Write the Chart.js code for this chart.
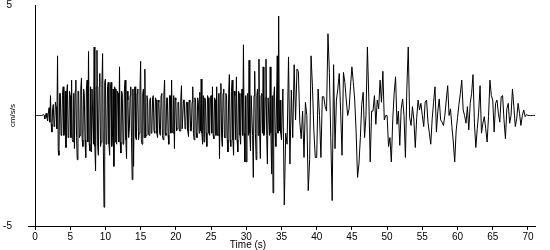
<!DOCTYPE html>
<html>
<head>
<meta charset="utf-8">
<title>Acceleration record</title>
<script src="https://cdn.jsdelivr.net/npm/chart.js@4/dist/chart.umd.min.js"></script>
<style>
  body { margin: 0; background: #fff; }
  #wrap { width: 550px; height: 250px; }
</style>
</head>
<body>
<div id="wrap"><canvas id="thechart" width="550" height="250"></canvas></div>
<script>
// what we have to start with
var xTicks = [0, 5, 10, 15, 20, 25, 30, 35, 40, 45, 50, 55, 60, 65, 70];
var yTicks = [-5, 5];
var xTitle = 'Time (s)';
var yTitle = 'cm/s/s';

// strong shaking part, 0.0 .. 34.9 s, read every 0.1 s (one row per second)
var denseStep = 0.1;
var denseAccel = [
  0, 0, 0, 0, 0, 0, 0, 0, 0, 0,
  0, 0, 0.05, 0, -0.15, 0.05, 0.1, -0.1, -0.25, 0.1,
  0.35, -0.3, 0.9, -0.4, -0.75, 0.3, 0.5, -0.5, -0.35, 0.6,
  0.4, -0.6, 2.7, -1.6, -1.8, 1.0, 1.0, -0.9, -0.8, 0.9,
  1.3, -0.9, -0.6, 1.1, -1.45, 1.0, 1.4, -1.0, -0.9, 1.1,
  0.9, -1.0, 1.6, -1.1, -1.2, 1.0, -1.5, 1.1, 1.6, -1.0,
  -2.0, 1.1, 1.1, -1.0, -0.9, 1.2, 1.7, -1.1, -1.4, 1.2,
  1.0, -1.1, -1.9, 1.2, 1.6, -1.2, 2.9, -1.3, -1.6, 1.3,
  -1.65, 1.2, 1.2, -1.3, 3.1, -1.4, -2.5, 1.3, 2.95, -1.4,
  -1.8, 1.3, 1.9, -1.4, -1.2, 1.4, 2.8, -1.3, -4.15, 1.5,
  1.65, -1.3, -1.2, 1.3, 1.5, -1.3, -1.8, 1.2, 1.5, -1.4,
  -1.0, 1.2, -2.3, 1.3, 1.2, -1.2, -1.3, 1.1, 1.0, -1.2,
  2.2, -1.2, -1.7, 1.1, 1.0, -1.3, -1.2, 1.2, 1.6, -1.1,
  -1.95, 1.1, 0.7, -1.0, -0.6, 0.9, 1.3, -1.0, -2.9, 1.2,
  -2.3, 1.1, 1.3, -1.0, -1.1, 1.0, 1.2, -1.1, -0.8, 1.1,
  2.45, -1.1, -1.3, 1.0, 1.2, -1.0, 2.1, -1.0, -0.9, 0.9,
  0.6, -0.8, -0.9, 0.7, 0.8, -0.8, -0.7, 0.8, 0.9, -0.7,
  -0.8, 0.8, 0.7, -0.8, -1.0, 0.7, 0.6, -0.8, -0.9, 0.9,
  1.0, -0.9, -1.1, 0.9, 1.6, -0.8, -0.9, 0.8, 0.8, -0.9,
  -1.3, 0.9, 0.9, -0.8, 1.6, -0.7, -0.8, 0.9, -1.5, 0.8,
  0.7, -0.7, -0.6, 0.6, 0.6, -0.7, -0.7, 0.7, 1.35, -0.6,
  -0.6, 0.7, 0.7, -0.6, -0.5, 0.6, 0.6, -0.7, -0.95, 0.7,
  0.6, -0.7, -0.7, 0.6, 1.3, -0.8, -1.1, 0.8, 0.7, -0.8,
  -1.0, 0.8, 0.6, -0.8, 1.05, -0.7, 1.65, -0.8, -1.3, 0.9,
  -1.2, 0.8, 0.7, -0.8, -1.4, 0.9, 0.8, -0.8, -0.9, 0.8,
  0.9, -0.8, 1.3, -0.9, -1.05, 0.8, 0.7, -0.9, 1.3, -0.9,
  -0.9, 1.0, -1.95, 1.0, 1.45, -1.0, -1.4, 1.0, 1.2, -1.0,
  -1.0, 1.0, 0.9, -1.1, -1.65, 1.0, 1.85, -1.1, -1.4, 1.1,
  1.6, -1.1, -1.8, 1.1, 0.9, -1.1, 1.75, -1.1, -1.65, 1.1,
  1.0, -0.9, -1.3, 0.8, 1.2, -0.9, 3.2, -0.8, -2.1, 0.9,
  -2.1, 0.8, 1.0, -0.9, 2.5, -0.8, -1.6, 0.9, 0.9, -0.9,
  -2.8, 0.9, 2.0, -0.8, -2.0, 0.9, 1.2, -0.9, 2.55, -0.8,
  -1.95, 0.9, 1.0, -0.8, 2.2, -0.9, -0.7, 0.8, 2.55, -0.9,
  -2.2, 0.8, 0.8, -0.9, 2.2, -0.8, -2.65, 0.9, -3.5, 0.8,
  1.3, -0.8, -1.4, 0.7, 2.7, -0.8, 4.5, -0.7, 0.7, -0.8
];

// calmer tail, 35.0 .. 71.0 s, read every 0.2 s (t = s.0 s.2 s.4 s.6 s.8)
var tailStart = 35;
var tailStep = 0.2;
var tailAccel = [
  -1.1, 1.2, -4.05, -0.8, -1.3,
  2.65, -2.2, 1.15, -1.0, 2.3,
  -0.2, 2.1, 2.0, -0.3, -1.05,
  0.2, -1.9, 0.6, 0.0, -3.4,
  -2.0, 2.7, 1.3, -0.7, -1.9,
  -1.9, 1.2, 0.0, -1.9, 0.85,
  0.85, 0.4, 0.2, 3.7, 1.95,
  -1.0, -3.85, 2.3, -1.5, 0.7,
  1.2, 1.9, 0.2, -1.8, 1.95,
  1.5, 0.7, 0.0, 0.3, 1.3,
  2.2, 1.5, 0.7, -0.75, -2.8,
  -2.2, -1.0, 0.5, 1.05, -1.0,
  0.0, 3.1, 0.8, -2.1, 0.2,
  0.2, 0.9, -0.4, 0.7, 0.3,
  1.6, 0.6, 2.0, -0.2, 0.0,
  0.0, -1.4, -1.0, -2.1, -0.2,
  1.0, 1.75, -0.4, 0.2, -1.35,
  0.3, 0.75, 0.0, -1.9, 1.2,
  3.1, -0.1, -0.45, 0.4, -0.2,
  -1.45, -0.1, 0.7, 0.25, 0.55,
  0.0, -0.5, 0.6, 0.7, -0.3,
  -0.8, -1.3, -0.15, 0.6, 1.3,
  -0.75, 0.2, 0.75, -0.2, -0.3,
  -0.45, 0.0, 0.7, 1.35, 0.0,
  0.3, -0.5, -1.2, -2.1, -0.7,
  -0.1, 0.5, 1.0, 1.6, 0.25,
  0.0, -0.35, 0.4, -0.65, 0.55,
  1.0, 1.85, -0.35, -1.45, -0.6,
  0.15, 1.35, -0.8, -0.35, -0.05,
  -0.6, -1.2, -0.05, 1.6, 0.9,
  0.7, -0.75, 0.55, 0.7, 0.1,
  -0.3, 0.85, 0.9, -0.2, -1.05,
  0.3, 0.55, -0.35, 0.0, 1.2,
  0.4, -0.5, -0.15, 0.55, 0.1,
  -0.45, 0.0, 0.25, -0.05, 0.05,
  0, 0, 0, 0, 0,
  0
];

// pair each sample with its time for the linear x scale
var points = [];
for (var i = 0; i < denseAccel.length; i++) {
  points.push({ x: Math.round(i * denseStep * 10) / 10, y: denseAccel[i] });
}
for (var j = 0; j < tailAccel.length; j++) {
  points.push({ x: Math.round((tailStart + j * tailStep) * 10) / 10, y: tailAccel[j] });
}

var fontFamily = 'Arial, "Liberation Sans", sans-serif';
var tickFont = { family: fontFamily, size: 10 };

// x title sits left of centre in the original, so draw it by hand
var xTitlePlugin = {
  id: 'xTitlePlugin',
  afterDraw: function (chart) {
    var ctx = chart.ctx;
    ctx.save();
    ctx.fillStyle = '#000';
    ctx.font = '10px ' + fontFamily;
    ctx.textAlign = 'center';
    ctx.textBaseline = 'alphabetic';
    ctx.fillText(xTitle, 248, 248);
    ctx.restore();
  }
};

function drawChart() {
  var ctx = document.getElementById('thechart').getContext('2d');
  new Chart(ctx, {
    type: 'line',
    data: {
      datasets: [{
        data: points,
        borderColor: '#000',
        borderWidth: 1,
        pointRadius: 0,
        tension: 0,
        fill: false
      }]
    },
    options: {
      responsive: false,
      animation: false,
      events: [],
      layout: { autoPadding: false, padding: { top: 5, right: 15, left: 0, bottom: 0 } },
      plugins: { legend: { display: false }, tooltip: { enabled: false } },
      scales: {
        x: {
          type: 'linear',
          min: 0,
          max: 71,
          afterBuildTicks: function (scale) {
            scale.ticks = xTicks.map(function (v) { return { value: v }; });
          },
          afterFit: function (scale) { scale.height = 24; },
          border: { display: true, color: '#000', width: 1 },
          grid: { drawOnChartArea: false, drawTicks: true, tickLength: 4, color: '#000' },
          ticks: { color: '#000', font: tickFont, padding: 1, maxRotation: 0, autoSkip: false }
        },
        y: {
          min: -5,
          max: 5,
          afterBuildTicks: function (scale) {
            scale.ticks = yTicks.map(function (v) { return { value: v }; });
          },
          afterFit: function (scale) {
            scale.width = 35;
            // the big label padding would otherwise push the plot down
            scale.paddingTop = 0;
            scale.paddingBottom = 0;
          },
          border: { display: true, color: '#000', width: 1 },
          grid: {
            drawOnChartArea: false,
            drawTicks: true,
            tickLength: 7,
            color: function (c) { return c.tick && c.tick.value === -5 ? '#000' : 'rgba(0,0,0,0)'; }
          },
          ticks: { color: '#000', font: tickFont, padding: 16 },
          title: {
            display: true,
            text: yTitle,
            color: '#000',
            font: { family: fontFamily, size: 8 },
            padding: { top: 8, bottom: 0 }
          }
        }
      }
    },
    plugins: [xTitlePlugin]
  });
}

drawChart();
</script>
</body>
</html>
